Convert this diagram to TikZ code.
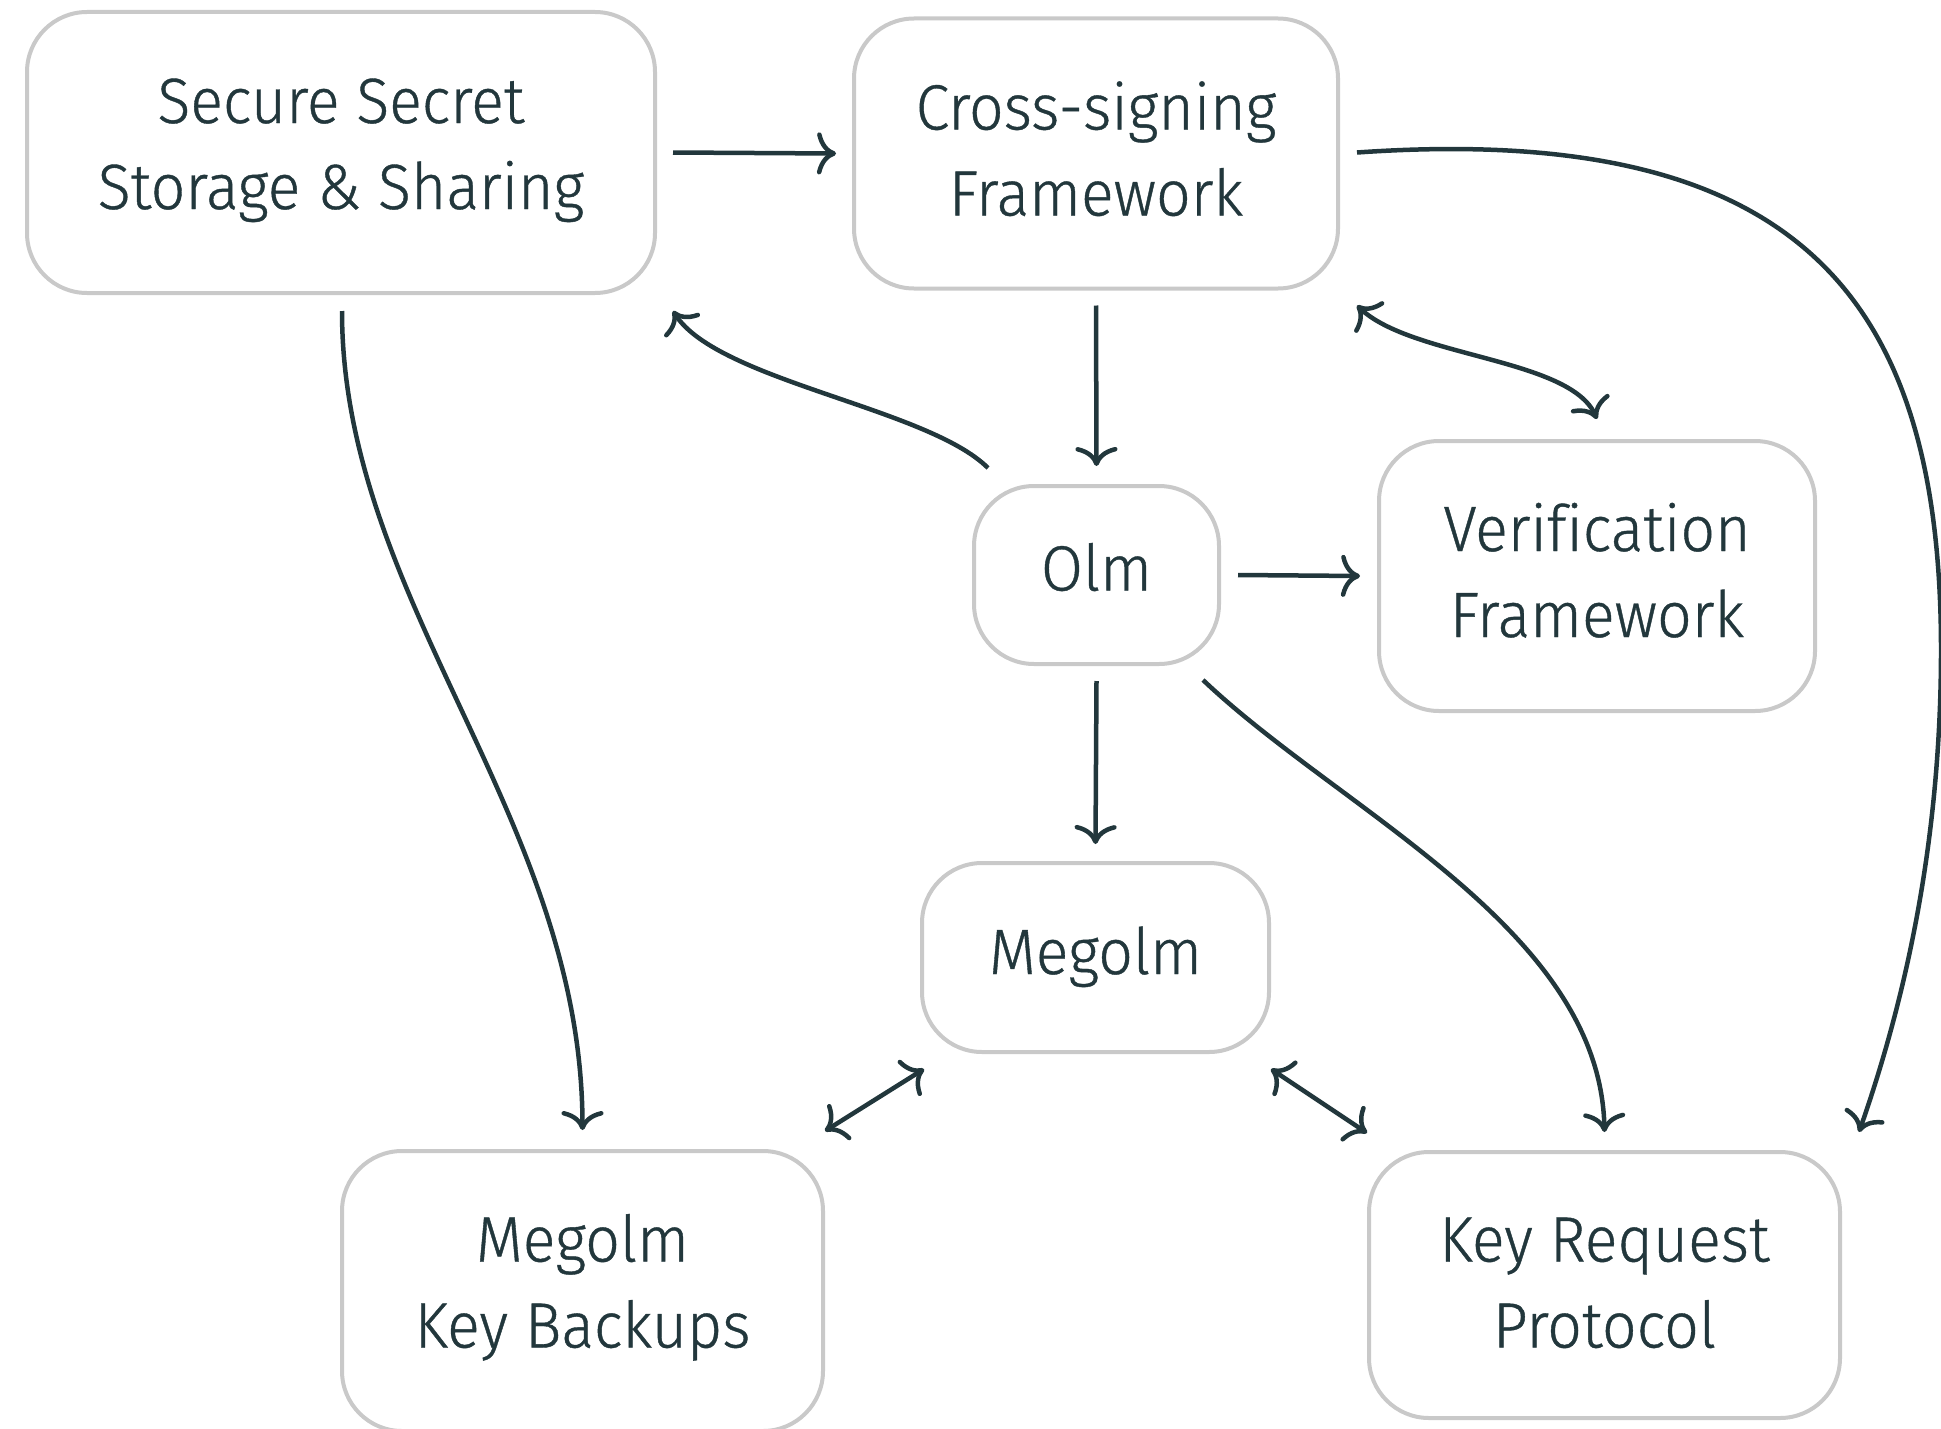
\documentclass[tikz,border=0pt]{standalone}
\usepackage{fontspec}
\setmainfont{Fira Sans Light}[FakeStretch=0.95,FakeBold=0.6,Ligatures=NoCommon]
\usetikzlibrary{arrows.meta,calc}
\definecolor{ink}{HTML}{22373C}
\definecolor{edgegray}{HTML}{C9C9C9}
\tikzset{
  block/.style={draw=edgegray, line width=4pt, rounded corners=60pt, fill=white,
    text=ink, align=center, inner sep=0pt,
    font=\fontsize{64}{86}\selectfont},
  oneline/.style={text height=44pt},
  twoline/.style={text height=130pt},
  lift/.style={text depth=#1},
  link/.style={draw=ink, line width=4.5pt,
    -{Computer Modern Rightarrow[length=19pt,width=42pt]}},
  twoway/.style={draw=ink, line width=4.5pt,
    {Computer Modern Rightarrow[length=19pt,width=42pt]}-{Computer Modern Rightarrow[length=19pt,width=42pt]}}
}
\begin{document}
\begin{tikzpicture}[x=1pt,y=-1pt]
\useasboundingbox (0,0) rectangle (1941,1429);

% components
\node[block, twoline, lift=17pt, minimum width=628pt, minimum height=281pt] (sss) at (341,152.5) {Secure Secret\\Storage \& Sharing};
\node[block, twoline, lift=6pt, minimum width=484pt, minimum height=270pt] (xs)  at (1096,153.5) {Cross-signing\\Framework};
\node[block, oneline, lift=13pt, minimum width=245pt, minimum height=178pt] (olm) at (1096.5,575) {Olm};
\node[block, twoline, lift=8pt, minimum width=436pt, minimum height=270pt] (ver) at (1597,576) {Verification\\Framework};
\node[block, oneline, lift=11pt, minimum width=347pt, minimum height=189pt] (meg) at (1095.5,957.5) {Megolm};
\node[block, twoline, lift=17pt, minimum width=481pt, minimum height=280pt] (mkb) at (582.5,1291) {Megolm\\Key Backups};
\node[block, twoline, lift=5pt, minimum width=471pt, minimum height=266pt] (krp) at (1604.5,1285) {Key Request\\Protocol};

\coordinate (rightbend) at (1941,650);

% straight dependencies
\draw[link] ($(sss.east)+(16,0)$) -- ($(xs.west)+(-16,0)$);
\draw[link] ($(xs.south)+(0,15)$) -- ($(olm.north)+(0,-18)$);
\draw[link] ($(olm.east)+(17,0)$) -- ($(ver.west)+(-17,0)$);
\draw[link] ($(olm.south)+(0,15)$) -- ($(meg.north)+(0,-17)$);

% curved dependencies
\draw[link] ($(olm.north west)+(16,-16)$) .. controls +(-60,-60) and +(45,70) .. ($(sss.south east)+(16,16)$);
\draw[link] ($(sss.south)+(1,16)$) .. controls +(0,291) and +(0,-313) .. ($(mkb.north)+(0,-19)$);
\draw[link] ($(olm.south east)+(-18,14)$) .. controls +(139,132) and +(-4,-203) .. ($(krp.north)+(0,-18)$);
\draw[link] ($(xs.east)+(17,-1)$) .. controls +(445,-31) and +(0,-350) .. (rightbend)
  .. controls +(0,200) and +(43,-123) .. ($(krp.north east)+(17,-18)$);

% two-way links
\draw[twoway] ($(xs.south east)+(17,15)$) .. controls +(55,52) and +(-27,-61) .. ($(ver.north)+(0,-20)$);
\draw[twoway] ($(mkb.north east)+(0,-18)$) -- ($(meg.south west)+(4,15)$);
\draw[twoway] ($(meg.south east)+(0,15)$) -- ($(krp.north west)+(0,-17)$);
\end{tikzpicture}
\end{document}
